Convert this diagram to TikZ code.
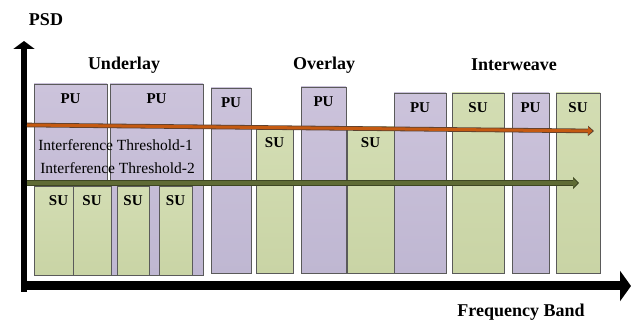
\documentclass[tikz,border=0pt]{standalone}
\usepackage{fontspec}
\setmainfont{Liberation Serif}
\usetikzlibrary{arrows.meta,shadows}
\definecolor{pufill}{HTML}{CCC3DB}
\definecolor{pufillb}{HTML}{BFB7D2}
\definecolor{sufill}{HTML}{D3DDB3}
\definecolor{sufillb}{HTML}{C9D4A5}
\definecolor{boxline}{HTML}{5A5A5A}
\definecolor{thrA}{HTML}{C55A11}
\definecolor{thrAd}{HTML}{5A4030}
\definecolor{thrB}{HTML}{5F6B35}
\definecolor{thrBd}{HTML}{3E4622}
\tikzset{
  bx/.style={draw=boxline, line width=0.8pt, inner sep=0pt, outer sep=0pt, anchor=north west,
    drop shadow={opacity=0.25, shadow xshift=1.2pt, shadow yshift=-1.2pt}},
  pubox/.style={bx, top color=pufill, bottom color=pufillb},
  subox/.style={bx, top color=sufill, bottom color=sufillb},
  lbl/.style={font=\fontsize{15}{15}\selectfont\bfseries, inner sep=0pt},
  head/.style={font=\fontsize{18}{18}\selectfont\bfseries, inner sep=0pt},
  thr/.style={font=\fontsize{15.5}{15.5}\selectfont, inner sep=0pt},
  axis/.style={line width=6pt, black},
}
\begin{document}
\begin{tikzpicture}[x=1pt,y=-1pt]
\useasboundingbox[fill=white] (0,0) rectangle (637,320);
% PU / SU boxes
\node[pubox, minimum width=73pt, minimum height=191pt] (p1) at (34,84) {};
\node[pubox, minimum width=93pt, minimum height=191pt] (p2) at (110,84) {};
\node[pubox, minimum width=40pt, minimum height=185pt] (p3) at (211,88) {};
\node[subox, minimum width=37pt, minimum height=144pt] (s1) at (256,129) {};
\node[pubox, minimum width=45pt, minimum height=186pt] (p4) at (301,87) {};
\node[subox, minimum width=47pt, minimum height=146pt] (s2) at (347,127) {};
\node[pubox, minimum width=52pt, minimum height=180pt] (p5) at (394,93) {};
\node[subox, minimum width=52pt, minimum height=180pt] (s3) at (452,93) {};
\node[pubox, minimum width=37pt, minimum height=180pt] (p6) at (512,93) {};
\node[subox, minimum width=44pt, minimum height=180pt] (s4) at (556,93) {};
% underlay SU boxes
\node[subox, minimum width=39pt, minimum height=89pt] (u1) at (34,186) {};
\node[subox, minimum width=38pt, minimum height=89pt] (u2) at (73,186) {};
\node[subox, minimum width=32pt, minimum height=89pt] (u3) at (117,186) {};
\node[subox, minimum width=33pt, minimum height=89pt] (u4) at (159,186) {};
% box labels
\foreach \b/\t in {p1/PU,p2/PU,p3/PU,p4/PU,p5/PU,s3/SU,p6/PU,s4/SU}
  \node[lbl] at ([yshift=-15pt]\b.north) {\t};
\node[lbl] at ([yshift=-14pt]s1.north) {SU};
\node[lbl] at ([yshift=-16pt]s2.north) {SU};
\node[lbl] at ([xshift=5pt,yshift=-15pt]u1.north) {SU};
\foreach \b in {u2,u3,u4}
  \node[lbl] at ([yshift=-15pt]\b.north) {SU};
% headings
\node[head] (psd) at (46,20) {PSD};
\node[head] (under) at (124,65) {Underlay};
\node[head] (over) at (324,65) {Overlay};
\node[head] (inter) at (514,65) {Interweave};
\node[head] (freq) at (521,312) {Frequency Band};
% threshold texts
\node[thr] (t1) at (115.5,145) {Interference Threshold-1};
\node[thr] (t2) at (117.5,168) {Interference Threshold-2};
% axes
\coordinate (origin) at (24,292);
\coordinate (ytip) at (24,41);
\coordinate (xstart) at (26,286);
\coordinate (xtip) at (631,286);
\draw[axis, -{Triangle[length=8pt,width=21pt]}] (origin) -- (ytip);
\draw[line width=9pt, -{Triangle[length=11pt,width=30pt]}] (xstart) -- (xtip);
% threshold arrows
\coordinate (a1s) at (27,125);
\coordinate (a1e) at (594,131);
\coordinate (a2s) at (27,183);
\coordinate (a2e) at (579,183);
\draw[line width=4.6pt, thrAd, -{Triangle[length=6pt,width=10pt]}] (a1s) -- (a1e);
\draw[line width=3pt, thrA, shorten >=1.5pt, -{Triangle[length=4.5pt,width=7.5pt]}] (a1s) -- (a1e);
\draw[line width=5.5pt, thrBd, -{Triangle[length=6pt,width=12pt]}] (a2s) -- (a2e);
\draw[line width=4pt, thrB, shorten >=1.5pt, -{Triangle[length=4.5pt,width=9pt]}] (a2s) -- (a2e);
\end{tikzpicture}
\end{document}
